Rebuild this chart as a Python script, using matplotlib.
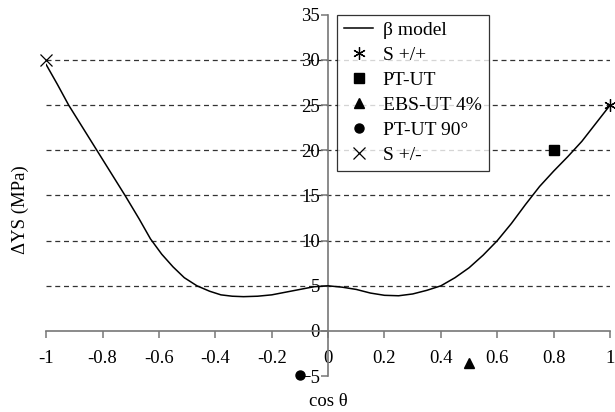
import numpy as np
import matplotlib.pyplot as plt

plt.rcParams['font.family'] = ['Liberation Serif', 'DejaVu Serif']

# beta model curve
beta_x = [-1.0, -0.96, -0.92, -0.87, -0.82, -0.77, -0.72, -0.67, -0.63, -0.59, -0.55, -0.51, -0.465,
          -0.42, -0.38, -0.34, -0.30, -0.25, -0.20, -0.15, -0.10, -0.05, 0.0, 0.05, 0.10, 0.15,
          0.20, 0.25, 0.30, 0.35, 0.40, 0.45, 0.50, 0.55, 0.60, 0.65, 0.70, 0.75, 0.80, 0.85,
          0.90, 0.95, 1.0]
beta_y = [29.5, 27.3, 25.0, 22.5, 20.0, 17.5, 15.0, 12.4, 10.2, 8.5, 7.1, 5.9, 5.0,
          4.4, 4.0, 3.85, 3.8, 3.85, 4.0, 4.3, 4.6, 4.9, 5.0, 4.85, 4.6, 4.2,
          3.95, 3.9, 4.1, 4.5, 5.0, 5.9, 7.0, 8.4, 10.0, 11.9, 14.0, 16.0, 17.7, 19.3,
          21.0, 23.0, 25.0]

spp_x, spp_y = [1.0], [25.0]      # S +/+
ptut_x, ptut_y = [0.8], [20.0]    # PT-UT
ebs_x, ebs_y = [0.5], [-3.5]      # EBS-UT 4%
pt90_x, pt90_y = [-0.1], [-4.9]   # PT-UT 90
spm_x, spm_y = [-1.0], [30.0]     # S +/-

fig = plt.figure(figsize=(6.15, 4.12), dpi=100)
ax = fig.add_axes([0.075, 0.087, 0.917, 0.877])

for g in [5, 10, 15, 20, 25, 30]:
    ax.plot([-1, 1], [g, g], ls=(0, (4, 3)), color='#333333', lw=0.9, zorder=1)

ax.plot(beta_x, beta_y, color='black', lw=1.1, label=u'\u03b2 model', zorder=3)
ax.plot(spp_x, spp_y, ls='none', marker=(6, 2, 0), ms=9, mec='black', mew=0.9, label='S +/+', zorder=4, clip_on=False)
ax.plot(ptut_x, ptut_y, ls='none', marker='s', ms=6.5, color='black', label='PT-UT', zorder=4, clip_on=False)
ax.plot(ebs_x, ebs_y, ls='none', marker='^', ms=7, color='black', label='EBS-UT 4%', zorder=4, clip_on=False)
ax.plot(pt90_x, pt90_y, ls='none', marker='o', ms=6.5, color='black', label=u'PT-UT 90\u00b0', zorder=4, clip_on=False)
ax.plot(spm_x, spm_y, ls='none', marker='x', ms=8, mec='black', mew=0.9, label='S +/-', zorder=4, clip_on=False)

ax.set_xlim(-1, 1)
ax.set_ylim(-5, 35)
ax.spines['left'].set_position(('data', 0))
ax.spines['bottom'].set_position(('data', 0))
ax.spines['right'].set_visible(False)
ax.spines['top'].set_visible(False)
ax.spines['left'].set_color('#777777')
ax.spines['bottom'].set_color('#777777')
ax.spines['left'].set_linewidth(1.2)
ax.spines['bottom'].set_linewidth(1.2)

ax.set_xticks(np.arange(-1, 1.01, 0.2))
ax.set_xticklabels(['-1', '-0.8', '-0.6', '-0.4', '-0.2', '0', '0.2', '0.4', '0.6', '0.8', '1'])
ax.set_yticks(range(-5, 36, 5))
ax.tick_params(axis='both', direction='out', color='#777777', labelsize=13.5, length=5, width=1.1)
ax.tick_params(axis='x', pad=9)
ax.tick_params(axis='y', pad=1)

ax.text(0.0, -7.8, u'cos \u03b8', ha='center', va='center', fontsize=13.5)
fig.text(0.033, 0.49, u'\u0394YS (MPa)', rotation=90, ha='center', va='center', fontsize=13.5)

leg = ax.legend(loc='upper left', bbox_to_anchor=(0.516, 1.0), fontsize=14, frameon=True,
                fancybox=False, edgecolor='black', handlelength=1.5, handletextpad=0.5,
                borderpad=0.35, labelspacing=0.38, numpoints=1, borderaxespad=0)
leg.get_frame().set_linewidth(0.9)

fig.savefig('out.png', dpi=100)
